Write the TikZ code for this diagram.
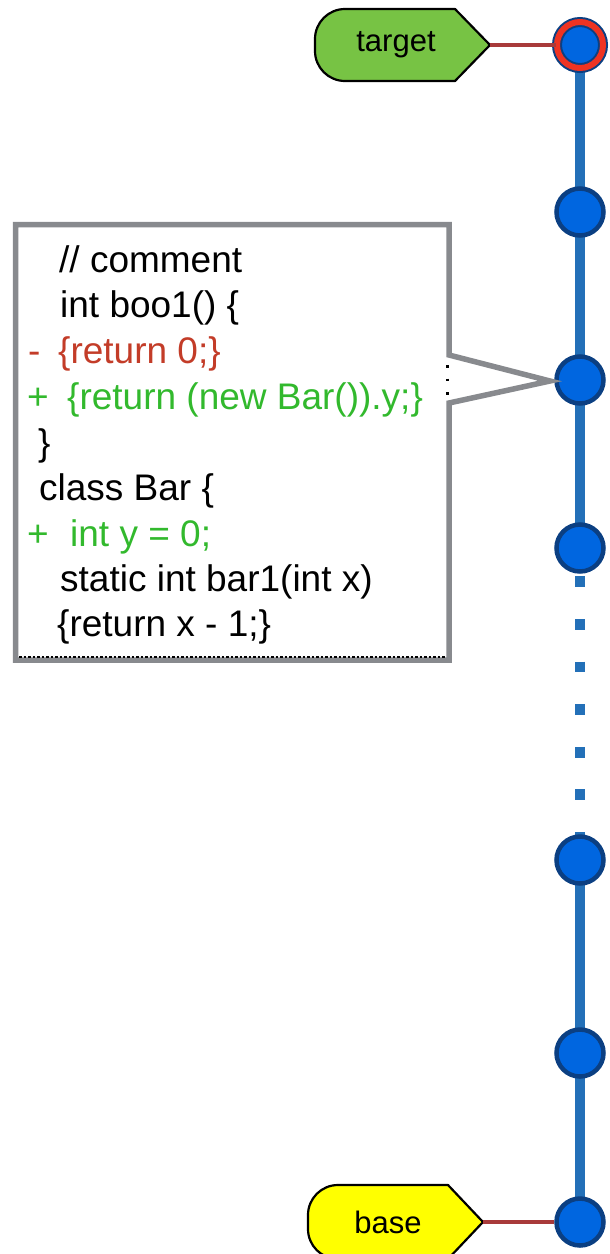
\documentclass[tikz,border=0pt]{standalone}
\usepackage{fontspec}
\setmainfont{Liberation Sans}
\begin{document}
\begin{tikzpicture}[x=1pt,y=-1pt,
  commit/.style={circle,fill=commitfill,draw=commitedge,line width=4.5pt,minimum size=47pt,inner sep=0pt},
  headcommit/.style={circle,fill=commitfill,draw=commitedge,double=headring,double distance=6pt,line width=2pt,minimum size=46pt,inner sep=0pt},
  history/.style={draw=branch,line width=10pt,line cap=butt},
  gap/.style={draw=branch,line width=10pt,line cap=butt,dash pattern=on 10.7pt off 31.9pt,dash phase=14.2pt},
  reflink/.style={draw=refline,line width=4pt},
  reftag/.style={draw=black,line width=2.2pt,line join=round},
  reftext/.style={font=\fontsize{31}{36}\selectfont,inner sep=0pt},
  codeline/.style={anchor=base west,inner sep=0pt,font=\fontsize{37}{44}\selectfont},
  callout/.style={draw=calloutgray,line width=5.5pt,fill=white,line join=miter,miter limit=20}
]
\definecolor{commitfill}{HTML}{0066E0}
\definecolor{commitedge}{HTML}{0B3F82}
\definecolor{headring}{HTML}{EE3322}
\definecolor{branch}{HTML}{2370B8}
\definecolor{refline}{HTML}{A83A3A}
\definecolor{calloutgray}{HTML}{888A8E}
\definecolor{delred}{HTML}{C33C28}
\definecolor{addgreen}{HTML}{32B92D}
\definecolor{tagGreen}{HTML}{77C344}
\definecolor{tagYellow}{HTML}{FFFF00}

\useasboundingbox (0,0) rectangle (610,1254);

% commit positions along the branch
\coordinate (p1) at (580,45);
\coordinate (p2) at (580,212);
\coordinate (p3) at (580,380);
\coordinate (p4) at (580,548);
\coordinate (p5) at (580,860);
\coordinate (p6) at (580,1053);
\coordinate (p7) at (580,1222);

% branch line
\draw[history] (p1) -- (p2) -- (p3) -- (p4);
\draw[gap] (p4) -- (p5);
\draw[history] (p5) -- (p6) -- (p7);

% ref tags
\draw[reftag,fill=tagGreen] (490,45) -- (455,9) [rounded corners=30pt] -- (315,9) -- (315,81) [sharp corners] -- (455,81) -- cycle;
\node[reftext] (target) at (396,45) {target};
\coordinate (targettip) at (490,45);

\draw[reftag,fill=tagYellow] (483,1222) -- (448,1185) [rounded corners=30pt] -- (308,1185) -- (308,1259) [sharp corners] -- (448,1259) -- cycle;
\node[reftext] (base) at (388,1222) {base};
\coordinate (basetip) at (483,1222);

% commits
\node[headcommit] (c1) at (p1) {};
\node[commit] (c2) at (p2) {};
\node[commit] (c3) at (p3) {};
\node[commit] (c4) at (p4) {};
\node[commit] (c5) at (p5) {};
\node[commit] (c6) at (p6) {};
\node[commit] (c7) at (p7) {};

\draw[reflink] (targettip) -- (c1);
\draw[reflink] (basetip) -- (c7);

% diff callout attached to the third commit
\coordinate (tip) at (550,381);
\draw[callout] (449,355) -- (449,224.5) -- (15.5,224.5) -- (15.5,660) -- (449,660) -- (449,403) -- (tip) -- cycle;
\draw[black,line width=1.2pt,dash pattern=on 2.5pt off 2pt] (19,657) -- (446,657);
\draw[black,line width=2.5pt,dash pattern=on 2.5pt off 11pt,dash phase=-1pt] (447.5,364) -- (447.5,395);

\node[codeline] (l1) at (59,272) {// comment};
\node[codeline] (l2) at (60,317.6) {int boo1() \{};
\node[codeline,text=delred] (s3) at (28,363) {-};
\node[codeline,text=delred] (l3) at (58,363) {\{return 0;\}};
\node[codeline,text=addgreen] (s4) at (27,409) {+};
\node[codeline,text=addgreen] (l4) at (67,409) {\{return (new Bar()).y;\}};
\node[codeline] (l5) at (38,455) {\}};
\node[codeline] (l6) at (39,500) {class Bar \{};
\node[codeline,text=addgreen] (s7) at (27,546) {+};
\node[codeline,text=addgreen] (l7) at (70,546) {int y = 0;};
\node[codeline] (l8) at (60,591) {static int bar1(int x)};
\node[codeline] (l9) at (57,636) {\{return x - 1;\}};
\end{tikzpicture}
\end{document}
